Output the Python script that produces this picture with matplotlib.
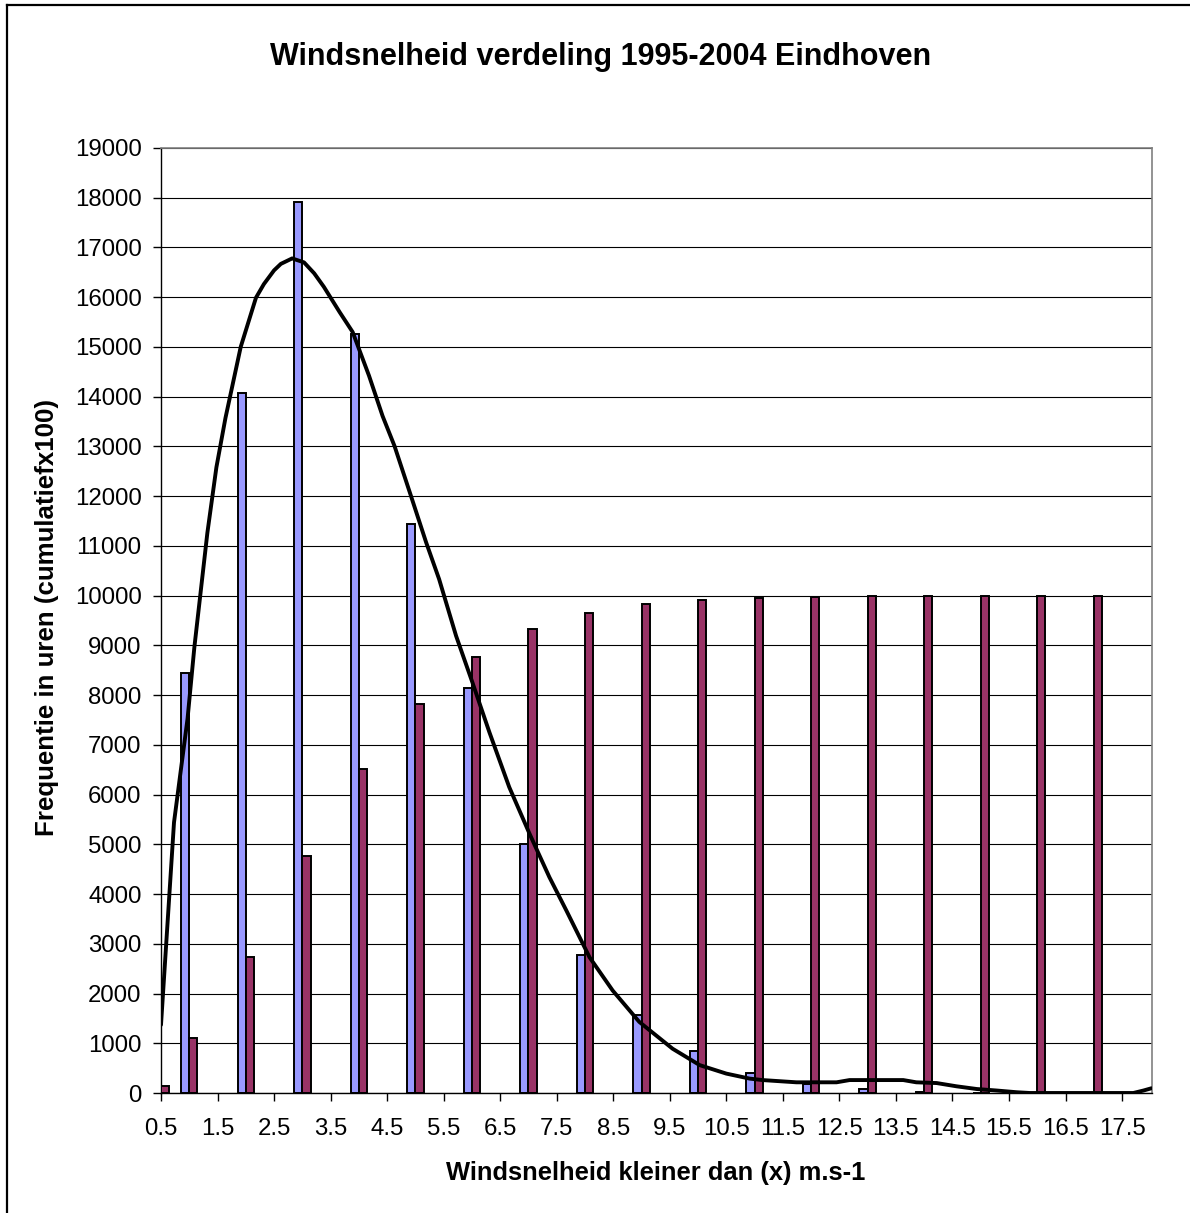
import matplotlib
matplotlib.use("Agg")
import matplotlib.pyplot as plt
from matplotlib.lines import Line2D
import numpy as np

plt.rcParams['font.family'] = ['Liberation Sans', 'DejaVu Sans']

# ---- data ----
group_x = [0.5, 1, 2, 3, 4, 5, 6, 7, 8, 9, 10, 11, 12, 13, 14, 15, 16, 17]
freq_hours = [0, 8450, 14070, 17920, 15270, 11450, 8140, 5000, 2770, 1570, 845, 396, 175, 80, 30, 10, 0, 0]
cumulative_x100 = [150, 1110, 2730, 4770, 6520, 7830, 8760, 9335, 9650, 9830, 9910, 9950, 9975, 9990, 9995, 10000, 10000, 10000]

curve_x = [0.5, 0.73, 0.97, 1.09, 1.2, 1.32, 1.48, 1.64, 1.91, 2.18, 2.32, 2.5, 2.62, 2.82, 3.03, 3.21,
           3.38, 3.66, 3.89, 4.18, 4.42, 4.63, 4.92, 5.19, 5.42, 5.72, 6.01, 6.31, 6.66, 7.02, 7.37,
           7.67, 8.08, 8.49, 8.96, 9.55, 10.03, 10.5, 10.91, 11.14, 11.74, 12.45, 12.68, 13.63, 13.86,
           14.22, 14.57, 14.93, 15.28, 15.64, 15.87, 17.7, 17.88, 18.02]
curve_y = [1370, 5440, 7530, 8960, 10060, 11260, 12580, 13570, 15000, 15990, 16264, 16540, 16670, 16780, 16700, 16480,
           16210, 15700, 15300, 14420, 13610, 13010, 12010, 11070, 10330, 9190, 8250, 7250, 6150, 5210, 4340,
           3670, 2730, 2060, 1430, 890, 560, 390, 290, 260, 215, 215, 260, 260, 215,
           200, 135, 80, 50, 15, 0, 0, 50, 95]

x_ticks = [0.5, 1.5, 2.5, 3.5, 4.5, 5.5, 6.5, 7.5, 8.5, 9.5, 10.5, 11.5, 12.5, 13.5, 14.5, 15.5, 16.5, 17.5]
y_ticks = list(range(0, 19001, 1000))

title = "Windsnelheid verdeling 1995-2004 Eindhoven"
xlabel = "Windsnelheid kleiner dan (x) m.s-1"
ylabel = "Frequentie in uren (cumulatiefx100)"

# ---- figure ----
W, H = 1190, 1213
fig = plt.figure(figsize=(W / 100, H / 100), dpi=100)
ax = fig.add_axes([161 / W, 1 - 1093 / H, (1152 - 161) / W, (1093 - 148) / H])

bw = 0.145
gx = np.array(group_x, dtype=float)
ax.bar(gx - bw / 2, freq_hours, width=bw, color='#9999FF', edgecolor='black', linewidth=1.4, zorder=3)
ax.bar(gx + bw / 2, cumulative_x100, width=bw, color='#993366', edgecolor='black', linewidth=1.4, zorder=3)
ax.plot(curve_x, curve_y, color='black', linewidth=2.8, solid_joinstyle='round', solid_capstyle='round',
        zorder=4, clip_on=True)

ax.set_xlim(0.5, 18.03)
ax.set_ylim(0, 19000)
ax.set_xticks(x_ticks)
ax.set_xticklabels([f"{v:g}" for v in x_ticks])
ax.set_yticks(y_ticks)
ax.set_yticklabels([str(v) for v in y_ticks])

ax.yaxis.grid(True, color='black', linewidth=0.8, zorder=0)
ax.set_axisbelow(True)
for s in ['top', 'right']:
    ax.spines[s].set_color('#808080')
    ax.spines[s].set_linewidth(1.2)
for s in ['left', 'bottom']:
    ax.spines[s].set_color('black')
    ax.spines[s].set_linewidth(1.0)

ax.tick_params(axis='both', direction='out', length=6, width=1.0, labelsize=17.3, colors='black')
ax.tick_params(axis='y', pad=8)
ax.tick_params(axis='x', pad=12)

fig.text(601 / W, 1 - 57 / H, title, ha='center', va='center', fontsize=22, fontweight='bold')
fig.text(656 / W, 1 - 1173 / H, xlabel, ha='center', va='center', fontsize=18.4, fontweight='bold')
fig.text(47 / W, 1 - 618 / H, ylabel, ha='center', va='center', rotation=90, fontsize=18.6, fontweight='bold')

# figure border (left and top visible)
fig.add_artist(Line2D([7 / W, 7 / W], [0, 1 - 5 / H], transform=fig.transFigure, color='black', linewidth=1.6))
fig.add_artist(Line2D([7 / W, 1], [1 - 5 / H, 1 - 5 / H], transform=fig.transFigure, color='black', linewidth=1.6))

fig.savefig("out.png", dpi=100)
